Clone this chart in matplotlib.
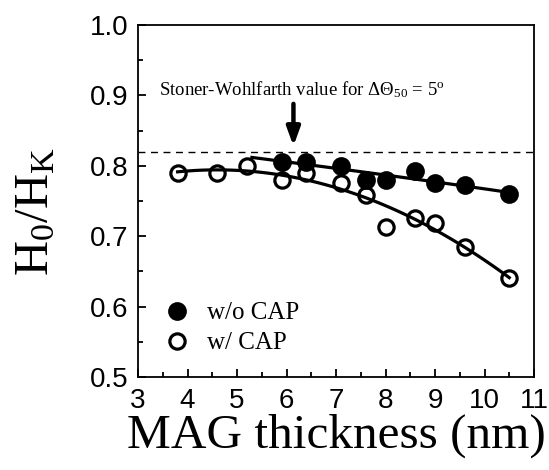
import numpy as np
import matplotlib
matplotlib.use("Agg")
import matplotlib.pyplot as plt
from matplotlib.ticker import MultipleLocator

thick_nocap = [5.9, 6.4, 7.1, 7.6, 8.0, 8.6, 9.0, 9.6, 10.5]
ratio_nocap = [0.805, 0.806, 0.800, 0.780, 0.780, 0.793, 0.776, 0.773, 0.760]

thick_cap = [3.8, 4.6, 5.2, 5.9, 6.4, 7.1, 7.6, 8.0, 8.6, 9.0, 9.6, 10.5]
ratio_cap = [0.790, 0.790, 0.800, 0.780, 0.790, 0.776, 0.758, 0.713, 0.726, 0.719, 0.685, 0.641]

sw_value = 0.82

serif = ["Liberation Serif", "DejaVu Serif"]
sans = ["Liberation Sans", "DejaVu Sans"]

# math text in the same Times-like serif as the labels
plt.rcParams["mathtext.fontset"] = "custom"
plt.rcParams["mathtext.rm"] = "Liberation Serif"
plt.rcParams["mathtext.it"] = "Liberation Serif:italic"
plt.rcParams["mathtext.bf"] = "Liberation Serif:bold"

fig = plt.figure(figsize=(5.49, 4.70), dpi=100)
ax = fig.add_axes([0.2514, 0.1979, 0.7213, 0.7489])

# Smooth trend lines (quadratic fits to each data set)
c1 = np.polyfit(thick_nocap, ratio_nocap, 2)
xf1 = np.linspace(5.3, 10.5, 100)
ax.plot(xf1, np.polyval(c1, xf1), color="black", lw=2.3, zorder=2)

c2 = np.polyfit(thick_cap, ratio_cap, 2)
xf2 = np.linspace(3.8, 10.5, 100)
ax.plot(xf2, np.polyval(c2, xf2), color="black", lw=2.3, zorder=2)

ax.plot(thick_nocap, ratio_nocap, "o", color="black", ms=12, mew=1.5,
        label="w/o CAP", zorder=3)
ax.plot(thick_cap, ratio_cap, "o", mfc="none", mec="black", ms=11, mew=2.3,
        label="w/ CAP", zorder=3)

# Stoner-Wohlfarth reference line
ax.axhline(sw_value, color="black", lw=1, ls=(0, (5, 4)), zorder=1)
ax.annotate("", xy=(6.14, 0.828), xytext=(6.14, 0.888),
            arrowprops=dict(arrowstyle="-|>,head_width=0.4,head_length=1.1",
                            color="black", lw=3.2, shrinkA=0, shrinkB=0))
ax.text(6.3, 0.9, r"Stoner-Wohlfarth value for $\Delta\Theta_{50}$ = 5$^{\mathrm{o}}$",
        ha="center", va="baseline", fontsize=13.5, family=serif)

ax.set_xlim(3, 11)
ax.set_ylim(0.5, 1.0)
ax.xaxis.set_major_locator(MultipleLocator(1))
ax.xaxis.set_minor_locator(MultipleLocator(0.5))
ax.yaxis.set_major_locator(MultipleLocator(0.1))
ax.yaxis.set_minor_locator(MultipleLocator(0.05))
ax.tick_params(which="both", direction="in", width=1.3, top=False, right=False)
ax.tick_params(which="major", length=6)
ax.tick_params(which="minor", length=3.5)
ax.tick_params(axis="x", pad=8)
ax.tick_params(axis="y", pad=7)
for lab in ax.get_xticklabels() + ax.get_yticklabels():
    lab.set_family(sans)
    lab.set_fontsize(20)
for sp in ax.spines.values():
    sp.set_linewidth(1.3)

ax.set_xlabel("MAG thickness (nm)", fontsize=35.5, family=serif, labelpad=0)
ax.set_ylabel(r"H$_0$/H$_\mathrm{K}$", fontsize=35, family=serif)
ax.yaxis.set_label_coords(-0.2, 0.47)

ax.legend(loc="lower left", bbox_to_anchor=(0.005, 0.0), frameon=False,
          prop={"family": serif, "size": 18}, handletextpad=0.6,
          labelspacing=0.3, handlelength=1.2)

fig.savefig("out.png", dpi=100)
